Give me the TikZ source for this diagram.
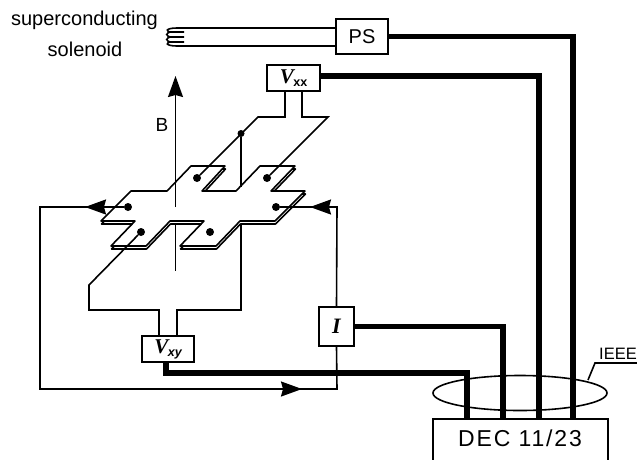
\documentclass[tikz,border=0pt]{standalone}
\usepackage{fontspec}
\setmainfont{Liberation Sans}
\newfontfamily\serifit{Liberation Serif}
\usetikzlibrary{arrows.meta}
\tikzset{
    lead/.style={line width=1.6pt},
    bus/.style={line width=5.5pt},
    box/.style={draw,line width=1.7pt,fill=white,inner sep=0pt},
    contact/.style={circle,fill=black,inner sep=0pt,minimum size=8pt},
    lbl/.style={font=\fontsize{20}{22}\selectfont,inner sep=0pt},
    head/.style={-{Stealth[length=21pt,width=15pt,inset=2pt]}},
}
\newcommand{\labelV}[1]{{\fontsize{21}{22}\selectfont\serifit\itshape\bfseries V}\kern-0.5pt\raisebox{-3pt}{\fontsize{12.5}{13}\selectfont\bfseries #1}}
\begin{document}
\begin{tikzpicture}[x=1pt,y=-1pt]
    \useasboundingbox (0,0) rectangle (637,459);
    % solenoid and instruments
    \node[box,minimum width=52pt,minimum height=35pt,font=\fontsize{20}{22}\selectfont] (PS) at (362,36.5) {PS};
    \node[box,minimum width=53pt,minimum height=26pt] (Vxx) at (293.5,78) {\labelV{xx}};
    \node[box,minimum width=52pt,minimum height=26pt] (Vxy) at (168,349) {\labelV{\itshape xy}};
    \node[box,minimum width=35pt,minimum height=39pt] (I) at (336.5,326.5) {\fontsize{22}{24}\selectfont\serifit\itshape\bfseries I};
    \node[box,minimum width=175pt,minimum height=50pt,anchor=north west] (DEC) at (432,418) {};
    \node[lbl,font=\fontsize{23}{24}\selectfont\addfontfeatures{LetterSpace=8}] (DECtext) at (520,438) {DEC 11/23};
    \node[lbl] (sc) at (84.5,20) {superconducting};
    \node[lbl] (sol) at (85,49.5) {solenoid};
    \node[lbl,font=\fontsize{19}{20}\selectfont] (B) at (162,125) {B};
    \node[lbl,font=\fontsize{16.5}{18}\selectfont,anchor=base east] (IEEE) at (637,359) {IEEE};
    \coordinate (S1) at (177,28);
    \coordinate (S2) at (177,46);
    \draw[lead] (S1) -- (S1 -| PS.west);
    \draw[lead] (S2) -- (S2 -| PS.west);
    \draw[lead] (S1) .. controls (165,28) and (165,32) .. (172,32) -- (184,32);
    \draw[lead] (172,32) .. controls (165,32) and (165,37) .. (172,37) -- (184,37);
    \draw[lead] (172,37) .. controls (165,37) and (165,42) .. (172,42) -- (184,42);
    \draw[lead] (172,42) .. controls (165,42) and (165,46) .. (S2);
    % sample
    \def\samplepath{(131,191) -- (167,191) -- (191,166) -- (225,166) -- (202,191) -- (236,191) -- (260,166)
        -- (295,166) -- (271,191) -- (305,191) -- (275,221) -- (240,221) -- (216,246) -- (180,246) -- (204,221)
        -- (170,221) -- (146,246) -- (111,246) -- (135,221) -- (101,221) -- cycle}
    % field arrow, lower part first
    \coordinate (Bup) at (175.5,76);
    \coordinate (Bdn) at (175.5,207);
    \coordinate (Bin) at (175.5,225);
    \coordinate (Bout) at (175.5,271);
    \draw[lead] (Bin) -- (Bout);
    \draw[lead,fill=white,line join=round,shift={(0.5,3)}] \samplepath;
    \draw[lead,fill=white,line join=round] \samplepath;
    \draw[lead,head] (Bdn) -- (Bup);
    % contacts
    \node[contact] (C1) at (197,178) {};
    \node[contact] (C2) at (267,178) {};
    \node[contact] (C3) at (128,207) {};
    \node[contact] (C4) at (276,207) {};
    \node[contact] (C5) at (141,232) {};
    \node[contact] (C6) at (210,232) {};
    \node[contact,minimum size=7pt] (J) at (241,133.5) {};
    % voltage leads
    \coordinate (XL) at (285,117);
    \coordinate (XR) at (302,117);
    \draw[lead] (XL |- Vxx.south) -- (XL) -- (258,117) -- (C1);
    \draw[lead] (XR |- Vxx.south) -- (XR) -- (328,117) -- (C2);
    \draw[lead] (J) -- (241,187);
    \coordinate (YL) at (159,310);
    \coordinate (YR) at (177,310);
    \draw[lead] (YL |- Vxy.north) -- (YL) -- (89,310) -- (89,285) -- (C5);
    \draw[lead] (YR |- Vxy.north) -- (YR) -- (241,310) -- (241,224);
    % current loop
    \coordinate (LC) at (40,207);
    \coordinate (LB) at (40,389);
    \coordinate (RB) at (337,389);
    \coordinate (RC) at (337,207);
    \draw[lead] (C3) -- (LC) -- (LB) -- (RB) -- (I.south);
    \draw[lead] (I.north) -- (RC) -- (C4);
    \begin{scope}[lead,head]
        \draw (104,207) -- (85,207);
        \draw (329,207) -- (310,207);
        \draw (283,389) -- (302,389);
    \end{scope}
    % bus lines
    \coordinate (Bps) at (573,36.5);
    \coordinate (Bxx) at (539,76);
    \coordinate (Bi) at (503,326.5);
    \coordinate (Bxy) at (467,373);
    \coordinate (Bxyl) at (166,373);
    \draw[bus] (PS.east) -- (Bps) -- (Bps |- DEC.north);
    \draw[bus] (Vxx.east |- Bxx) -- (Bxx) -- (Bxx |- DEC.north);
    \draw[bus] (I.east) -- (Bi) -- (Bi |- DEC.north);
    \draw[bus] (Bxyl |- Vxy.south) -- (Bxyl) -- (Bxy) -- (Bxy |- DEC.north);
    % ieee cable
    \draw[lead] (520,393) ellipse [x radius=87,y radius=17.5];
    \coordinate (Lf) at (595,363);
    \draw[lead] (588,380) -- (Lf) -- (637,363);
\end{tikzpicture}
\end{document}
